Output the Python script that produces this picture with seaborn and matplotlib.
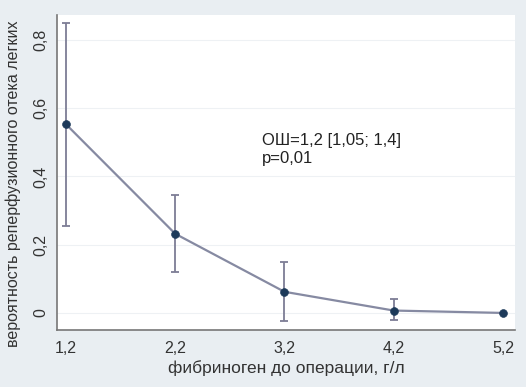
import matplotlib
matplotlib.use("Agg")
import matplotlib.pyplot as plt
import seaborn as sns
import pandas as pd
from matplotlib.ticker import FuncFormatter

fibrinogen = [1.2, 2.2, 3.2, 4.2, 5.2]
probability = [0.553, 0.232, 0.062, 0.007, 0.0]
ci_low = [0.255, 0.120, -0.025, -0.020, 0.0]
ci_high = [0.850, 0.345, 0.150, 0.040, 0.0]
x_ticks = [1.2, 2.2, 3.2, 4.2, 5.2]
y_ticks = [0, 0.2, 0.4, 0.6, 0.8]
annotation = ["ОШ=1,2 [1,05; 1,4]", "p=0,01"]
x_label = "фибриноген до операции, г/л"
y_label = "вероятность реперфузионного отека легких"

df = pd.DataFrame({"x": fibrinogen, "y": probability, "lo": ci_low, "hi": ci_high})

sns.set_style("white")
plt.rcParams["font.family"] = ["Liberation Sans Narrow", "Liberation Sans", "DejaVu Sans"]

bg = "#e9eef2"
fig = plt.figure(figsize=(5.26, 3.87), dpi=100, facecolor=bg)
ax = fig.add_axes([0.1084, 0.1473, 0.8706, 0.8137])
ax.set_facecolor("white")

for t in y_ticks:
    ax.axhline(t, color="#eef1f4", lw=0.8, zorder=0)

err_color = "#7d7d95"
ax.errorbar(df["x"], df["y"], yerr=[df["y"] - df["lo"], df["hi"] - df["y"]],
            fmt="none", ecolor=err_color, elinewidth=1.3, capsize=3, capthick=1.3, zorder=1)
sns.lineplot(data=df, x="x", y="y", ax=ax, color="#868aa2", lw=1.6, zorder=2)
sns.scatterplot(data=df, x="x", y="y", ax=ax, color="#1d3a5a", s=32, edgecolor="#1d3a5a", zorder=3)

ax.set_xlim(1.118, 5.31)
ax.set_ylim(-0.05, 0.873)
ax.set_xticks(x_ticks)
ax.set_yticks(y_ticks)
fmt = FuncFormatter(lambda v, p: ("%g" % v).replace(".", ","))
ax.xaxis.set_major_formatter(fmt)
ax.yaxis.set_major_formatter(fmt)
ax.tick_params(axis="both", direction="out", length=4, width=1, color="#777777",
               labelsize=11.5, labelcolor="#333333")
ax.tick_params(axis="x", pad=4)
ax.tick_params(axis="y", pad=2)
plt.setp(ax.get_yticklabels(), rotation=90, va="center")

for s in ["top", "right"]:
    ax.spines[s].set_visible(False)
for s in ["left", "bottom"]:
    ax.spines[s].set_color("#777777")
    ax.spines[s].set_linewidth(1.2)

ax.set_xlabel(x_label, fontsize=12.5, color="#333333", labelpad=3)
ax.set_ylabel(y_label, fontsize=11.5, color="#333333")
ax.yaxis.set_label_coords(-0.078, 0.465)

ax.text(2.994, 0.504, annotation[0], fontsize=12, color="#222222", va="center")
ax.text(2.994, 0.452, annotation[1], fontsize=12, color="#222222", va="center")

fig.savefig("out.png", dpi=100, facecolor=bg)
